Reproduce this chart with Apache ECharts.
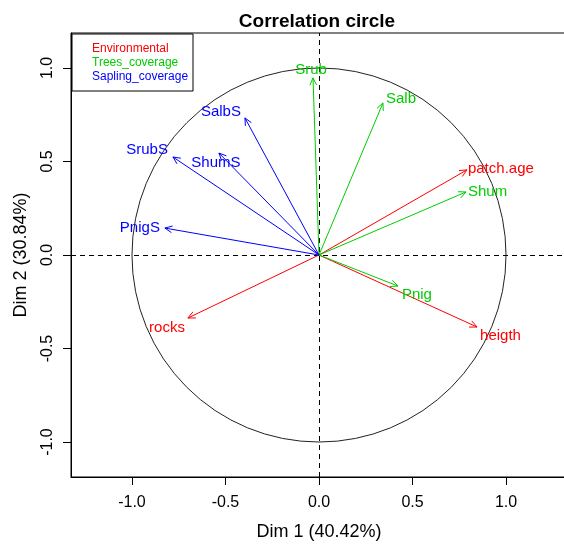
<!DOCTYPE html>
<html>
<head>
<meta charset="utf-8">
<script src="https://cdn.jsdelivr.net/npm/echarts@6/dist/echarts.min.js"></script>
<style>
html,body{margin:0;padding:0;background:#fff;}
#chart{width:564px;height:544px;}
</style>
</head>
<body>
<div id="chart"></div>
<script>
// ---- data ----
const varNames = ["Srub","Salb","patch.age","Shum","Pnig","heigth","rocks","PnigS","SrubS","ShumS","SalbS"];
const varDim1  = [-0.032, 0.342, 0.791, 0.786, 0.422, 0.845, -0.701, -0.824, -0.781, -0.535, -0.396];
const varDim2  = [ 0.947, 0.813, 0.455, 0.337, -0.166, -0.385, -0.337, 0.144, 0.524, 0.545, 0.733];
const varGroup = ["Trees_coverage","Trees_coverage","Environmental","Trees_coverage","Trees_coverage","Environmental","Environmental","Sapling_coverage","Sapling_coverage","Sapling_coverage","Sapling_coverage"];
const groups = ["Environmental","Trees_coverage","Sapling_coverage"];
const tickValues = [-1.0, -0.5, 0.0, 0.5, 1.0];
const circleRadius = 1;
const titleText = "Correlation circle";
const xName = "Dim 1 (40.42%)";
const yName = "Dim 2 (30.84%)";

// ---- styles ----
const groupColors = {"Environmental":"#FF0000","Trees_coverage":"#00CD00","Sapling_coverage":"#0000FF"};
const labelOffsets = {
  "Srub":[-2,-8,"center"], "Salb":[3,-4,"left"], "patch.age":[1,-1,"left"], "Shum":[2,0,"left"],
  "Pnig":[4,9,"left"], "heigth":[3,9,"left"], "rocks":[-3,10,"right"], "PnigS":[-5,0,"right"],
  "SrubS":[-5,-7,"right"], "ShumS":[-3,10,"center"], "SalbS":[-4,-6,"right"]
};
const FONT = '"Liberation Sans", Arial, sans-serif';

const chart = echarts.init(document.getElementById('chart'), null, {renderer:'canvas'});

function makeArrowSeries(g) {
  const idx = varNames.map((n,i)=>i).filter(i=>varGroup[i]===g);
  const names = idx.map(i=>varNames[i]);
  const color = groupColors[g];
  return {
    type:'custom', name:g, z:5,
    data: idx.map(i=>[varDim1[i], varDim2[i]]),
    renderItem: function(params, api){
      const o = api.coord([0,0]);
      const t = api.coord([api.value(0), api.value(1)]);
      const ang = Math.atan2(t[1]-o[1], t[0]-o[0]);
      const L = 8, A = 25*Math.PI/180;
      const p1 = [t[0]-L*Math.cos(ang-A), t[1]-L*Math.sin(ang-A)];
      const p2 = [t[0]-L*Math.cos(ang+A), t[1]-L*Math.sin(ang+A)];
      const nm = names[params.dataIndex];
      const off = labelOffsets[nm];
      return {type:'group', children:[
        {type:'line', shape:{x1:o[0],y1:o[1],x2:t[0],y2:t[1]}, style:{stroke:color,lineWidth:1}},
        {type:'polyline', shape:{points:[p1,t,p2]}, style:{stroke:color,fill:null,lineWidth:1}},
        {type:'text', x:t[0]+off[0], y:t[1]+off[1], style:{text:nm, fill:color, font:'15px '+FONT, align:off[2], verticalAlign:'middle'}}
      ]};
    }
  };
}

const option = {
  animation:false,
  backgroundColor:'#fff',
  title:{text:titleText, left:312, top:7, textAlign:'center',
    textStyle:{fontFamily:FONT, fontWeight:'bold', fontSize:19, color:'#000'}},
  grid:{left:71, top:33, right:-3, bottom:67, outerBoundsMode:'none', containLabel:false,
    show:true, borderColor:'#000', borderWidth:1, backgroundColor:'transparent'},
  xAxis:{type:'value', min:-1.326, max:1.326,
    name:xName, nameLocation:'middle', nameGap:46,
    nameTextStyle:{fontFamily:FONT, fontSize:18, color:'#000'},
    axisLine:{show:true, onZero:false, lineStyle:{color:'#000', width:1}},
    axisTick:{show:true, inside:false, length:8, lineStyle:{color:'#000'}, customValues:tickValues},
    axisLabel:{show:true, margin:18, fontFamily:FONT, fontSize:16, color:'#000', customValues:tickValues,
      formatter:v=>v.toFixed(1)},
    splitLine:{show:false}},
  yAxis:{type:'value', min:-1.187, max:1.187,
    name:yName, nameLocation:'middle', nameGap:41, nameRotate:90,
    nameTextStyle:{fontFamily:FONT, fontSize:18, color:'#000'},
    axisLine:{show:true, onZero:false, lineStyle:{color:'#000', width:1}},
    axisTick:{show:true, inside:false, length:8, lineStyle:{color:'#000'}, customValues:tickValues},
    axisLabel:{show:true, margin:15, rotate:90, fontFamily:FONT, fontSize:16, color:'#000', customValues:tickValues,
      formatter:v=>v.toFixed(1)},
    splitLine:{show:false}},
  graphic:[
    {type:'rect', left:71.5, top:33.5, z:100, shape:{width:121, height:57},
      style:{fill:'#fff', stroke:'#000', lineWidth:1}},
    ...groups.map((g,i)=>({type:'text', left:92, top:43+i*14, z:101,
      style:{text:g, fill:groupColors[g], font:'12px '+FONT}}))
  ],
  series:[
    {type:'custom', z:2, data:[[0,0,circleRadius]],
      renderItem:function(params, api){
        const c = api.coord([api.value(0), api.value(1)]);
        const r = api.size([api.value(2), 0])[0];
        return {type:'circle', shape:{cx:c[0], cy:c[1], r:r}, style:{stroke:'#222', fill:null, lineWidth:1}};
      },
      markLine:{silent:true, symbol:'none', label:{show:false},
        lineStyle:{color:'#000', type:[5,4], width:1},
        emphasis:{disabled:true},
        data:[{xAxis:0},{yAxis:0}]}
    },
    ...groups.map(makeArrowSeries)
  ]
};
chart.setOption(option);
</script>
</body>
</html>
